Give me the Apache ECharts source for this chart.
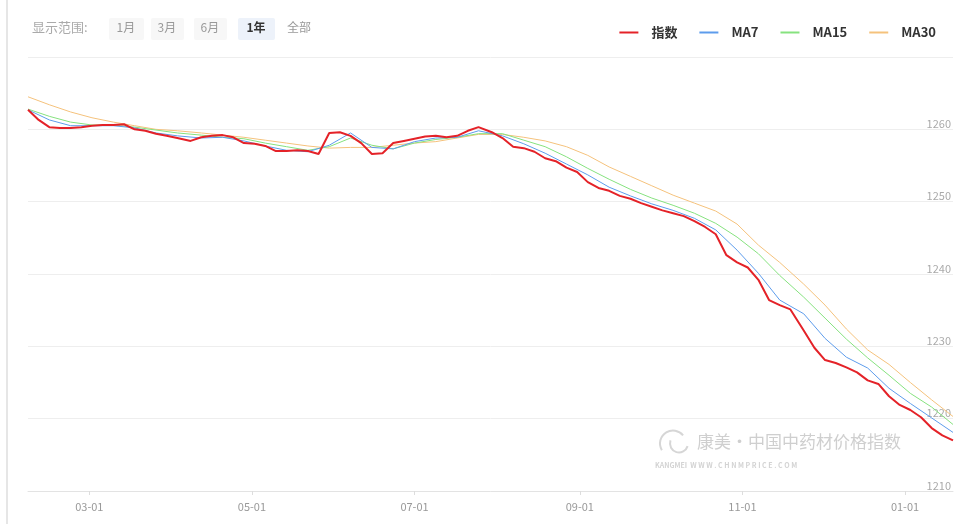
<!DOCTYPE html>
<html>
<head>
<meta charset="utf-8">
<script src="https://cdn.jsdelivr.net/npm/echarts@6/dist/echarts.min.js"></script>
<style>
  html, body { margin: 0; padding: 0; background: #fff; }
  #chart { width: 974px; height: 524px; }
</style>
</head>
<body>
<div id="chart"></div>
<script>
// 指数 sampled about every 4 days, 2019-02-06 .. 2020-01-19
const indexValues = [
  1262.7, 1261.3, 1260.3, 1260.2, 1260.2, 1260.3, 1260.5, 1260.6, 1260.6, 1260.7,
  1260.0, 1259.8, 1259.4, 1259.1, 1258.8, 1258.4, 1258.9, 1259.1, 1259.2, 1258.9,
  1258.1, 1258.0, 1257.7, 1257.0, 1257.0, 1257.1, 1257.0, 1256.6, 1259.5, 1259.6,
  1259.1, 1258.1, 1256.6, 1256.7, 1258.1, 1258.4, 1258.7, 1259.0, 1259.1, 1258.9,
  1259.1, 1259.8, 1260.3, 1259.6, 1258.8, 1257.6, 1257.4, 1256.9, 1256.0, 1255.6,
  1254.7, 1254.1, 1252.7, 1251.9, 1251.5, 1250.8, 1250.4, 1249.8, 1249.3, 1248.8,
  1248.4, 1248.0, 1247.3, 1246.5, 1245.5, 1242.6, 1241.6, 1240.9, 1239.2, 1236.4,
  1235.7, 1235.1, 1232.2, 1229.8, 1228.1, 1227.7, 1227.1, 1226.4, 1225.3, 1224.8,
  1223.1, 1221.9, 1221.2, 1220.2, 1218.7, 1217.7, 1217.0
];
// moving averages sampled about every 8 days over the same span
const ma7Values = [
  1262.7, 1261.3, 1260.5, 1260.5, 1260.5, 1260.2, 1259.5, 1259.1, 1258.8, 1258.9,
  1258.4, 1257.7, 1257.1, 1256.9, 1257.8, 1259.5, 1257.5, 1257.3, 1258.3, 1258.8,
  1258.9, 1259.8, 1259.1, 1258.0, 1256.7, 1255.2, 1253.7, 1252.0, 1250.8, 1249.7,
  1248.8, 1247.7, 1246.1, 1243.3, 1240.1, 1236.4, 1234.5, 1231.1, 1228.5, 1227.0,
  1224.2, 1222.1, 1220.1, 1218.1
];
const ma15Values = [
  1262.8, 1261.8, 1261.0, 1260.6, 1260.6, 1260.3, 1259.9, 1259.5, 1259.2, 1258.9,
  1258.7, 1258.1, 1257.6, 1257.1, 1257.6, 1258.8, 1257.8, 1257.3, 1258.1, 1258.6,
  1258.9, 1259.4, 1259.4, 1258.5, 1257.6, 1256.2, 1254.6, 1253.1, 1251.7, 1250.5,
  1249.5, 1248.4, 1247.0, 1245.1, 1242.8, 1239.8, 1236.8, 1233.9, 1231.0, 1228.4,
  1226.0, 1223.5, 1221.6, 1219.2
];
const ma30Values = [
  1264.5, 1263.4, 1262.4, 1261.6, 1261.0, 1260.5, 1260.0, 1259.8, 1259.5, 1259.2,
  1258.9, 1258.5, 1258.1, 1257.7, 1257.4, 1257.5, 1257.5, 1257.8, 1258.1, 1258.3,
  1258.8, 1259.3, 1259.3, 1258.9, 1258.4, 1257.6, 1256.4, 1254.8, 1253.5, 1252.2,
  1250.9, 1249.8, 1248.7, 1246.9, 1244.0, 1241.6, 1238.6, 1235.7, 1232.4, 1229.5,
  1227.5, 1225.0, 1222.6, 1220.3
];
const seriesNames = ['指数', 'MA7', 'MA15', 'MA30'];
const colorArray = ['#e42228', '#5d9cec', '#86e27f', '#f5c27c'];
const tickDates = ['2019-03-01', '2019-05-01', '2019-07-01', '2019-09-01', '2019-11-01', '2020-01-01'];
const rangeButtons = ['1月', '3月', '6月', '1年', '全部'];

const DAY = 86400000;
const START = new Date(2019, 1, 6).getTime();
const SPAN_DAYS = 347;

function toTime(s) {
  const p = s.split('-');
  return new Date(+p[0], +p[1] - 1, +p[2]).getTime();
}
// spread samples evenly over the span, snapped to whole days
function spread(values) {
  const n = values.length - 1;
  return values.map((v, i) => [START + Math.round(i * SPAN_DAYS / n) * DAY, v]);
}

const font = '"Noto Sans CJK SC", "Noto Sans", sans-serif';
let chart = echarts.init(document.getElementById('chart'));

// range toolbar (top-left)
let toolbar = [{
  type: 'text', left: 32, top: 21,
  style: { text: '显示范围:', fill: '#aaa', font: '13px ' + font }
}];
let btnX = [109, 151, 194, 238, 282];
let btnW = [35, 33, 33, 37, 36];
rangeButtons.forEach((b, i) => {
  let active = b === '1年';
  toolbar.push({
    type: 'rect', left: btnX[i], top: 18,
    shape: { width: btnW[i], height: 22, r: 2 },
    style: { fill: active ? '#edf2fa' : (b === '全部' ? '#fff' : '#f7f7f7') }
  });
  toolbar.push({
    type: 'text', left: btnX[i] + (btnW[i] - (b === '全部' ? 26 : 20)) / 2, top: 21,
    style: { text: b, fill: active ? '#333' : '#999', font: (active ? 'bold ' : '') + '12px ' + font }
  });
});

let option = {
  animation: false,
  color: colorArray,
  grid: { left: 28, right: 21, top: 57, bottom: 33 },
  legend: {
    right: 33, top: 21,
    icon: 'rect',
    itemWidth: 19, itemHeight: 2, itemGap: 22,
    textStyle: { color: '#333', fontSize: 13, fontWeight: 'bold', fontFamily: font, padding: [0, 0, 0, 8] },
    data: seriesNames.map((n, i) => ({ name: n, itemStyle: { color: colorArray[i] } }))
  },
  xAxis: {
    type: 'time',
    min: START,
    max: START + SPAN_DAYS * DAY,
    axisLine: { lineStyle: { color: '#e3e3e3' } },
    axisTick: { show: true, length: 4, lineStyle: { color: '#ddd' }, customValues: tickDates.map(toTime) },
    axisLabel: {
      customValues: tickDates.map(toTime),
      formatter: '{MM}-{dd}',
      color: '#999', fontSize: 11, margin: 10, fontFamily: font
    },
    splitLine: { show: false }
  },
  yAxis: {
    type: 'value',
    position: 'right',
    min: 1210, max: 1270, interval: 10,
    axisLine: { show: false },
    axisTick: { show: false },
    axisLabel: {
      inside: true, margin: 2, verticalAlign: 'bottom',
      showMaxLabel: false,
      formatter: v => String(v),
      color: '#aaa', fontSize: 11, fontFamily: font
    },
    splitLine: { lineStyle: { color: '#eeeeee' } }
  },
  series: [
    { name: '指数', type: 'line', data: spread(indexValues), symbol: 'none', lineStyle: { width: 2 }, z: 5 },
    { name: 'MA7', type: 'line', data: spread(ma7Values), symbol: 'none', lineStyle: { width: 1 }, z: 4 },
    { name: 'MA15', type: 'line', data: spread(ma15Values), symbol: 'none', lineStyle: { width: 1 }, z: 3 },
    { name: 'MA30', type: 'line', data: spread(ma30Values), symbol: 'none', lineStyle: { width: 1 }, z: 2 }
  ],
  graphic: toolbar.concat([
    // left border of the panel
    { type: 'rect', left: 6, top: 0, shape: { width: 2, height: 524 }, style: { fill: '#e6e6e6' } },
    // watermark
    {
      type: 'group', left: 655, top: 428, silent: true, children: [
        { type: 'arc', shape: { cx: 18, cy: 12, r: 13, startAngle: 2.6, endAngle: 5.6 }, style: { stroke: '#d6d6d6', lineWidth: 2, fill: null } },
        { type: 'arc', shape: { cx: 24, cy: 12, r: 9, startAngle: 0.3, endAngle: 3.5 }, style: { stroke: '#d6d6d6', lineWidth: 2, fill: null } },
        { type: 'text', left: 42, top: 2, style: { text: '康美·中国中药材价格指数', fill: '#cfcfcf', font: '17px ' + font } },
        { type: 'text', left: 0, top: 30, style: { text: 'KANGMEI  W W W . C H N M P R I C E . C O M', fill: '#d3d3d3', font: 'bold 7px ' + font } }
      ]
    }
  ])
};

chart.setOption(option);
</script>
</body>
</html>
